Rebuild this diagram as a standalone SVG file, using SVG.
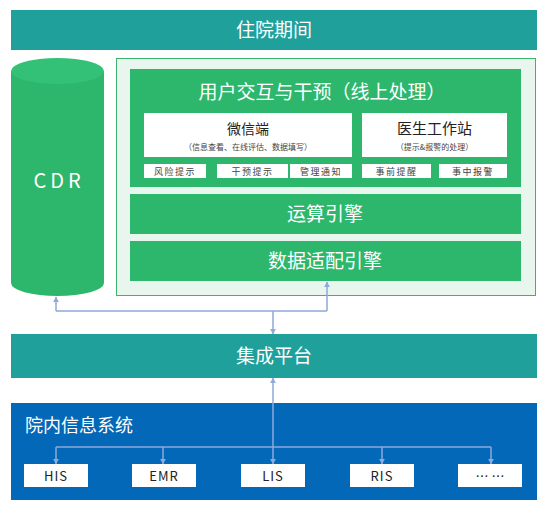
<svg xmlns="http://www.w3.org/2000/svg" width="548" height="509" viewBox="0 0 548 509">
<style>
text{font-family:"Noto Sans CJK SC","Noto Sans",sans-serif;}
.w{fill:#fff}
.g{fill:#2DB76C}
.teal{fill:#1FA09B}
.wt{fill:#fff;text-anchor:middle}
.bt{fill:#222;text-anchor:middle}
.sm{font-size:9px;fill:#444;text-anchor:middle;letter-spacing:1.5px}
.sub{font-size:8px;fill:#444;text-anchor:middle}
.ln{stroke:#8EA9DB;stroke-width:1.5;fill:none}
</style>
<defs>
<marker id="ah" viewBox="0 0 10 10" refX="9" refY="5" markerWidth="6" markerHeight="6" orient="auto-start-reverse" markerUnits="userSpaceOnUse">
<path d="M0,0 L10,5 L0,10 z" fill="#8EA9DB"/>
</marker>
</defs>

<g id="top-banner">
<rect x="11" y="10" width="526" height="40" class="teal"/>
<text x="274" y="37" class="wt" font-size="19">住院期间</text>
</g>

<g id="cdr">
<path d="M11,71 L11,283 A46.5,13 0 0 0 104,283 L104,71 Z" fill="#2DB76C"/>
<ellipse cx="57.5" cy="71" rx="46.5" ry="13" fill="#33C177"/>
<text x="59" y="188" class="wt" font-size="20" letter-spacing="4">CDR</text>
</g>

<g id="panel">
<rect x="116.5" y="58.5" width="419" height="237" fill="#E8F6EE" stroke="#3BB56E" stroke-width="1"/>
</g>

<g id="user-interaction">
<rect x="130" y="69" width="391" height="118" class="g"/>
<text x="322" y="99" class="wt" font-size="19">用户交互与干预（线上处理）</text>
</g>

<g id="wechat">
<rect x="144" y="113" width="208" height="44" class="w"/>
<text x="248" y="134" class="bt" font-size="14">微信端</text>
<text x="248" y="150" class="sub">（信息查看、在线评估、数据填写）</text>
</g>

<g id="doctor">
<rect x="362" y="113" width="145" height="44" class="w"/>
<text x="434.5" y="134" class="bt" font-size="15">医生工作站</text>
<text x="434.5" y="150" class="sub">（提示&amp;报警的处理）</text>
</g>

<g id="risk"><rect x="144" y="164" width="62" height="14" class="w"/><text x="175" y="174.5" class="sm">风险提示</text></g>
<g id="intervene"><rect x="217" y="164" width="71" height="14" class="w"/><text x="252.5" y="174.5" class="sm">干预提示</text></g>
<g id="manage"><rect x="290" y="164" width="62" height="14" class="w"/><text x="321" y="174.5" class="sm">管理通知</text></g>
<g id="pre"><rect x="362" y="164" width="69" height="14" class="w"/><text x="396.5" y="174.5" class="sm">事前提醒</text></g>
<g id="mid"><rect x="439" y="164" width="68" height="14" class="w"/><text x="473" y="174.5" class="sm">事中报警</text></g>

<g id="compute">
<rect x="130" y="194" width="391" height="40" class="g"/>
<text x="325" y="221" class="wt" font-size="19">运算引擎</text>
</g>

<g id="adapter">
<rect x="130" y="241" width="391" height="40" class="g"/>
<text x="325" y="268" class="wt" font-size="19">数据适配引擎</text>
</g>

<g id="integration">
<rect x="11" y="334" width="526" height="44" class="teal"/>
<text x="274" y="363" class="wt" font-size="19">集成平台</text>
</g>

<g id="hospital">
<rect x="11" y="403" width="526" height="97" fill="#0468B8"/>
<text x="25" y="432" fill="#fff" font-size="18">院内信息系统</text>
</g>

<g id="his"><rect x="24" y="464" width="64" height="23" class="w"/><text x="56" y="480.5" class="bt" font-size="13" letter-spacing="1">HIS</text></g>
<g id="emr"><rect x="132" y="464" width="64" height="23" class="w"/><text x="164" y="480.5" class="bt" font-size="13" letter-spacing="1">EMR</text></g>
<g id="lis"><rect x="241" y="464" width="64" height="23" class="w"/><text x="273" y="480.5" class="bt" font-size="13" letter-spacing="1">LIS</text></g>
<g id="ris"><rect x="350" y="464" width="64" height="23" class="w"/><text x="382" y="480.5" class="bt" font-size="13" letter-spacing="1">RIS</text></g>
<g id="more"><rect x="458" y="464" width="64" height="23" class="w"/><text x="490" y="480.5" class="bt" font-size="13">… …</text></g>

<g id="connectors">
<path class="ln" d="M56,311 L56,297" marker-end="url(#ah)"/>
<path class="ln" d="M56,311 L327,311"/>
<path class="ln" d="M327,311 L327,282" marker-end="url(#ah)"/>
<path class="ln" d="M273,311 L273,334" marker-end="url(#ah)"/>
<path class="ln" d="M273,447 L273,378" marker-end="url(#ah)"/>
<path class="ln" d="M56,447 L491,447"/>
<path class="ln" d="M56,447 L56,464" marker-end="url(#ah)"/>
<path class="ln" d="M163,447 L163,464" marker-end="url(#ah)"/>
<path class="ln" d="M273,447 L273,464" marker-end="url(#ah)"/>
<path class="ln" d="M382,447 L382,464" marker-end="url(#ah)"/>
<path class="ln" d="M491,447 L491,464" marker-end="url(#ah)"/>
</g>
</svg>
